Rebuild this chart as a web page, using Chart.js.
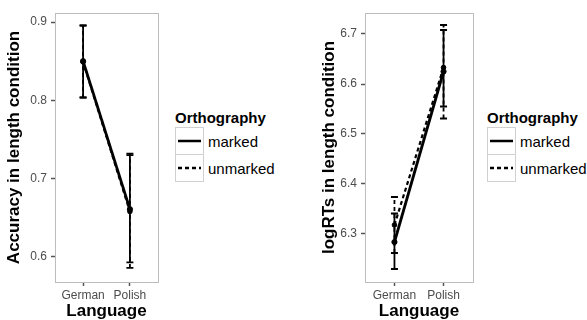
<!DOCTYPE html>
<html>
<head>
<meta charset="utf-8">
<script src="https://cdn.jsdelivr.net/npm/chart.js@4.4.0/dist/chart.umd.min.js"></script>
<style>
  body { margin: 0; background: #fff; font-family: "Liberation Sans", Arial, sans-serif; }
  #wrap { position: relative; width: 587px; height: 320px; overflow: hidden; }
  canvas { position: absolute; top: 0; }
  .legend { position: absolute; top: 108px; }
  .legend .ttl { font-weight: bold; font-size: 15px; color: #000; height: 20px; line-height: 20px; }
  .legend .row { display: flex; align-items: center; height: 27px; }
  .legend .key { width: 27px; height: 26px; border: 1px solid #d0d0d0; box-sizing: content-box; margin-top: -1px; }
  .legend .row:first-of-type .key { margin-top: 0; }
  .legend .lbl { font-size: 15px; color: #000; margin-left: 4px; }
</style>
</head>
<body>
<div id="wrap">
  <canvas id="acc" width="170" height="320" style="left:0px"></canvas>
  <canvas id="rt" width="185" height="320" style="left:300px"></canvas>
  <div class="legend" id="legAcc" style="left:175px"></div>
  <div class="legend" id="legRt" style="left:487px"></div>
</div>
<script>
// categories
var languages = ['German', 'Polish'];
var groups = ['marked', 'unmarked'];

// accuracy panel
var accMarked = [0.850, 0.661];
var accMarkedLo = [0.804, 0.593];
var accMarkedHi = [0.896, 0.732];
var accUnmarked = [0.849, 0.658];
var accUnmarkedLo = [0.803, 0.586];
var accUnmarkedHi = [0.895, 0.730];
var accTicks = [0.6, 0.7, 0.8, 0.9];

// logRT panel
var rtMarked = [6.284, 6.625];
var rtMarkedLo = [6.230, 6.555];
var rtMarkedHi = [6.341, 6.708];
var rtUnmarked = [6.318, 6.633];
var rtUnmarkedLo = [6.262, 6.531];
var rtUnmarkedHi = [6.374, 6.718];
var rtTicks = [6.3, 6.4, 6.5, 6.6, 6.7];

function pts(vals) {
  return vals.map(function (v, i) { return { x: i + 1, y: v }; });
}

// error bars + panel border
var errPlugin = {
  id: 'errbars',
  beforeDatasetsDraw: function (chart) {
    var ctx = chart.ctx, xs = chart.scales.x, ys = chart.scales.y;
    chart.data.datasets.forEach(function (ds) {
      ctx.save();
      ctx.strokeStyle = '#000';
      ctx.lineWidth = 1.8;
      ctx.setLineDash(ds.borderDash || []);
      ds.lo.forEach(function (lo, i) {
        var x = xs.getPixelForValue(i + 1);
        var y1 = ys.getPixelForValue(lo), y2 = ys.getPixelForValue(ds.hi[i]);
        ctx.beginPath();
        ctx.moveTo(x, y1); ctx.lineTo(x, y2);
        ctx.stroke();
        ctx.setLineDash([]);
        ctx.beginPath();
        ctx.moveTo(x - 3.5, y1); ctx.lineTo(x + 3.5, y1);
        ctx.moveTo(x - 3.5, y2); ctx.lineTo(x + 3.5, y2);
        ctx.stroke();
        ctx.setLineDash(ds.borderDash || []);
      });
      ctx.restore();
    });
  },
  afterDraw: function (chart) {
    var a = chart.chartArea, ctx = chart.ctx;
    ctx.save();
    ctx.strokeStyle = '#bdbdbd';
    ctx.lineWidth = 1;
    ctx.strokeRect(Math.round(a.left) + 0.5, Math.round(a.top) + 0.5,
      Math.round(a.right - a.left), Math.round(a.bottom - a.top));
    ctx.restore();
  }
};

function makeChart(id, title, m, mLo, mHi, u, uLo, uHi, ticks, yMin, yMax, padLeft, yWidth) {
  return new Chart(document.getElementById(id), {
    type: 'line',
    data: {
      datasets: [
        { label: groups[1], data: pts(u), lo: uLo, hi: uHi, borderColor: '#000', borderWidth: 2.2,
          borderDash: [4, 3], pointRadius: 2.3, pointBackgroundColor: '#000', pointBorderColor: '#000', pointBorderWidth: 1 },
        { label: groups[0], data: pts(m), lo: mLo, hi: mHi, borderColor: '#000', borderWidth: 2.8,
          pointRadius: 2.6, pointBackgroundColor: '#000', pointBorderColor: '#000', pointBorderWidth: 1 }
      ]
    },
    options: {
      responsive: false,
      animation: false,
      layout: { padding: { top: 13, right: 12, left: padLeft, bottom: 0 } },
      plugins: { legend: { display: false }, tooltip: { enabled: false } },
      scales: {
        x: {
          type: 'linear', min: 0.4, max: 2.6,
          afterBuildTicks: function (s) { s.ticks = languages.map(function (l, i) { return { value: i + 1 }; }); },
          afterFit: function (s) { s.height = 38; },
          ticks: { callback: function (v) { return languages[v - 1]; }, color: '#4d4d4d',
            font: { size: 12, family: 'Liberation Sans' }, padding: 2, maxRotation: 0 },
          grid: { drawOnChartArea: false, drawTicks: true, tickLength: 4, tickColor: '#555', tickWidth: 1.5 },
          border: { display: false },
          title: { display: true, text: 'Language', color: '#000',
            font: { size: 17, weight: 'bold', family: 'Liberation Sans', lineHeight: 1 }, padding: { top: 0, bottom: 0 } }
        },
        y: {
          min: yMin, max: yMax,
          afterBuildTicks: function (s) { s.ticks = ticks.map(function (t) { return { value: t }; }); },
          afterFit: function (s) { s.width = yWidth; },
          ticks: { callback: function (v) { return v.toFixed(1); }, color: '#4d4d4d',
            font: { size: 12, family: 'Liberation Sans' }, padding: 4 },
          grid: { drawOnChartArea: false, drawTicks: true, tickLength: 4, tickColor: '#555', tickWidth: 1.5 },
          border: { display: false },
          title: { display: true, text: title, color: '#000',
            font: { size: 17, weight: 'bold', family: 'Liberation Sans', lineHeight: 1 }, padding: { top: 6, bottom: 0 } }
        }
      }
    },
    plugins: [errPlugin]
  });
}

makeChart('acc', 'Accuracy in length condition', accMarked, accMarkedLo, accMarkedHi,
  accUnmarked, accUnmarkedLo, accUnmarkedHi, accTicks, 0.568, 0.9115, 0, 55);
makeChart('rt', 'logRTs in length condition', rtMarked, rtMarkedLo, rtMarkedHi,
  rtUnmarked, rtUnmarkedLo, rtUnmarkedHi, rtTicks, 6.204, 6.742, 15, 50);

function buildLegend(id) {
  var el = document.getElementById(id);
  var html = '<div class="ttl">Orthography</div>';
  groups.forEach(function (g, i) {
    var dash = i === 1 ? ' stroke-dasharray="4,3"' : '';
    html += '<div class="row"><div class="key"><svg width="27" height="26">' +
      '<line x1="2" y1="13" x2="25" y2="13" stroke="#000" stroke-width="2.5"' + dash + '/></svg></div>' +
      '<span class="lbl">' + g + '</span></div>';
  });
  el.innerHTML = html;
}
buildLegend('legAcc');
buildLegend('legRt');
</script>
</body>
</html>
